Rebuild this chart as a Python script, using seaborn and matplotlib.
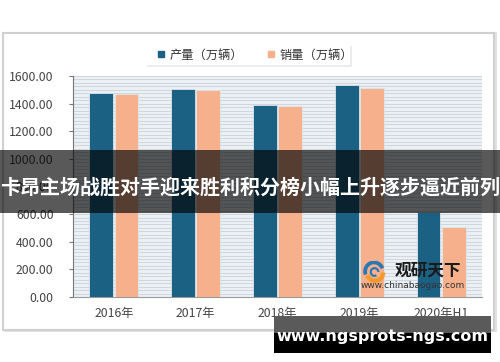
import matplotlib
matplotlib.use('Agg')
import matplotlib.pyplot as plt
import seaborn as sns
import pandas as pd
from matplotlib.patches import Rectangle, Wedge
from matplotlib.lines import Line2D
from matplotlib.ticker import MultipleLocator, FormatStrFormatter

# ---- data ----
categories = ['2016年', '2017年', '2018年', '2019年', '2020年H1']
production = [1475, 1504, 1390, 1535, 618]
sales = [1470, 1499, 1385, 1515, 509]
series_names = ['产量（万辆）', '销量（万辆）']
banner_text = '卡昂主场战胜对手迎来胜利积分榜小幅上升逐步逼近前列'
watermark_text = 'www.ngsprots-ngs.com'
logo_cn = '观研天下'
logo_url = 'www.chinabaogao.com'

BLUE = '#1b6184'
ORANGE = '#f7b08c'

sns.set_theme(style='white')
plt.rcParams['font.family'] = ['Noto Sans CJK SC', 'DejaVu Sans']

W, H = 500, 362
fig = plt.figure(figsize=(5, 3.62), dpi=100)
fig.patch.set_facecolor('white')

def fx(x):
    return x / W

def fy(y):
    return 1 - y / H

# card with shadow
fig.add_artist(Rectangle((fx(4), fy(332)), fx(493), 300 / H, transform=fig.transFigure,
                         fc='#e2e2e2', ec='none', zorder=0))
fig.add_artist(Rectangle((fx(3), fy(330)), fx(491), 297 / H, transform=fig.transFigure,
                         fc='white', ec='#d0d0d0', lw=1.5, zorder=0.5))

ax = fig.add_axes([fx(73), fy(297), fx(482 - 73), 221 / H])
ax.set_zorder(2)
df = pd.DataFrame({
    'year': categories * 2,
    'value': production + sales,
    'series': [series_names[0]] * len(categories) + [series_names[1]] * len(categories),
})
sns.barplot(data=df, x='year', y='value', hue='series', palette=[BLUE, ORANGE],
            width=0.62, gap=0.06, saturation=1, ax=ax, legend=False, zorder=3,
            edgecolor='#dfe6ec', linewidth=0.6)

ax.set_ylim(0, 1600)
ax.set_xlim(-0.5, len(categories) - 0.5)
ax.set_facecolor('#eaf0f4')
ax.yaxis.set_major_locator(MultipleLocator(200))
ax.yaxis.set_minor_locator(MultipleLocator(25))
ax.yaxis.set_major_formatter(FormatStrFormatter('%.2f'))
ax.grid(True, axis='y', which='both', color='#cad1d8', lw=0.6, zorder=0)
ax.set_axisbelow(True)
ax.set_xlabel('')
ax.set_ylabel('')
for s in ['top', 'right']:
    ax.spines[s].set_visible(False)
ax.spines['left'].set_color('#777777')
ax.spines['left'].set_linewidth(0.8)
ax.spines['bottom'].set_color('#999999')
ax.spines['bottom'].set_linewidth(0.8)
ax.tick_params(axis='y', which='major', length=3, width=0.8, color='#777777',
               direction='out', pad=11, labelsize=8.8, labelcolor='#444444', left=True)
ax.tick_params(axis='y', which='minor', length=0)
ax.tick_params(axis='x', length=0, pad=7, labelsize=8.8, labelcolor='#444444')

# legend
handles = [Line2D([], [], marker='s', ls='', color=c, markersize=4.5) for c in [BLUE, ORANGE]]
fig.add_artist(Rectangle((fx(147), fy(67)), fx(205), 21 / H, transform=fig.transFigure,
                         fc='#ececec', ec='none', zorder=1))
fig.add_artist(Rectangle((fx(146), fy(65)), fx(204), 20 / H, transform=fig.transFigure,
                         fc='white', ec='none', zorder=1.1))
leg = fig.legend(handles, series_names, loc='center', bbox_to_anchor=(fx(254), fy(55)),
                 ncol=2, frameon=False, fontsize=8.8, handletextpad=0.2,
                 columnspacing=1.8, handlelength=1.0, labelcolor='#333333')

# logo
lax = fig.add_axes([fx(360), fy(283), fx(28), 22 / H])
lax.set_zorder(3)
lax.set_xlim(-1.3, 1.3)
lax.set_ylim(-1.0, 1.0)
lax.axis('off')
lax.add_patch(Wedge((0, 0.05), 1.0, 20, 200, width=0.35, fc='#2a78b5', ec='none'))
lax.add_patch(Wedge((0.1, -0.05), 0.95, 200, 360, width=0.4, fc='#f29a2e', ec='none'))
lax.add_patch(Wedge((0.05, 0.0), 0.45, 0, 300, width=0.2, fc='#2a78b5', ec='none'))
fig.text(fx(395), fy(271), logo_cn, fontsize=12, fontweight='bold', color='#1a1a1a',
         ha='left', va='center', zorder=4)
fig.text(fx(361), fy(286), logo_url, fontsize=6.5, color='#333333', ha='left', va='center',
         family=['DejaVu Sans'], zorder=4)

# banner overlay
fig.add_artist(Rectangle((0, fy(213)), 1, 63 / H, transform=fig.transFigure,
                         fc='black', alpha=0.65, ec='none', zorder=10))
fig.text(0.5, fy(187), banner_text, fontsize=14.4, fontweight='bold', color='white',
         ha='center', va='center', zorder=11)

# watermark box
fig.add_artist(Rectangle((fx(274), fy(333)), fx(217), 17 / H, transform=fig.transFigure,
                         fc='#5a5a5a', ec='none', zorder=10))
fig.add_artist(Rectangle((fx(274), fy(353)), fx(217), 20 / H, transform=fig.transFigure,
                         fc='black', ec='none', zorder=10))
fig.text(fx(382), fy(336), watermark_text, fontsize=11.5, fontweight='bold', color='white',
         ha='center', va='center', zorder=11, family=['DejaVu Sans'])

fig.savefig('out.png', dpi=100)
